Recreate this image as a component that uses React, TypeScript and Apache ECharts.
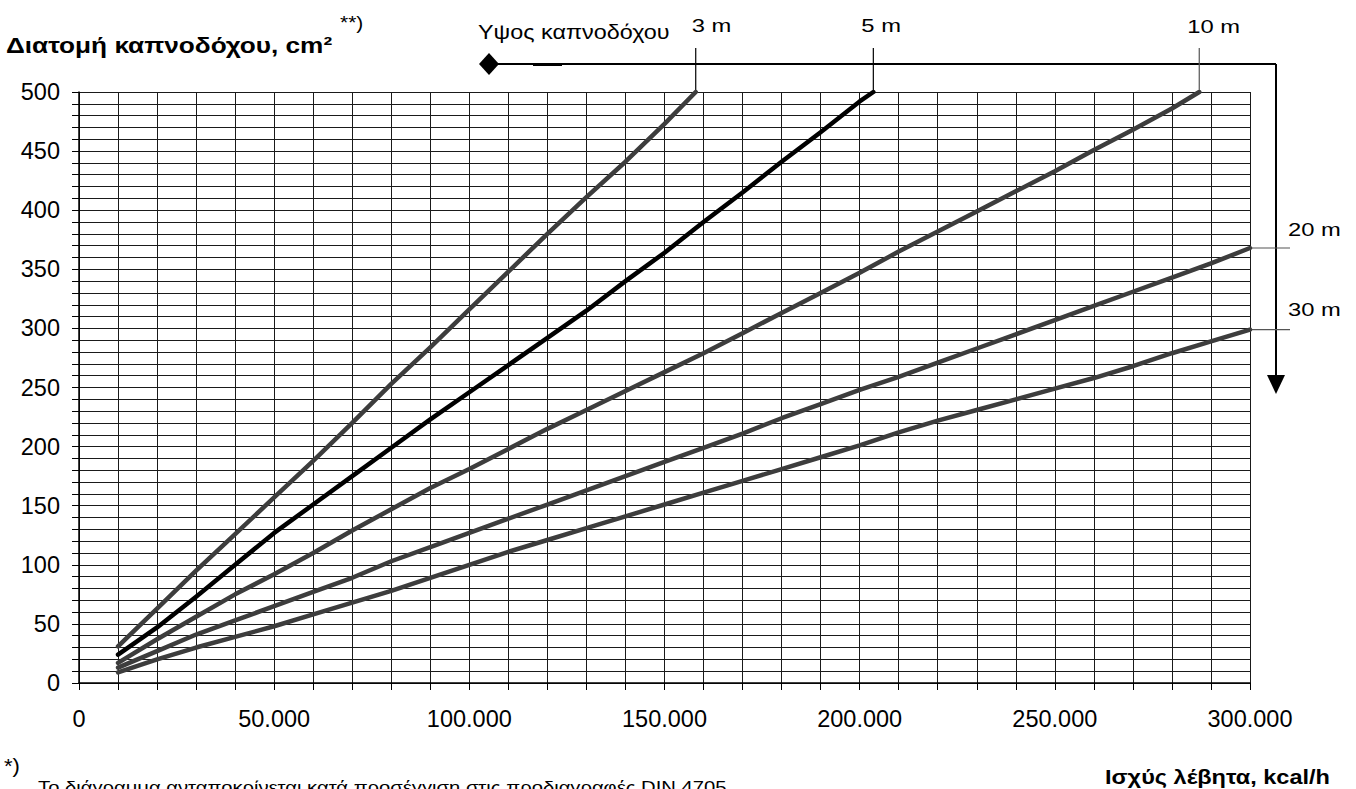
import React, { useEffect, useRef } from "react";
import * as echarts from "echarts";

// x-axis tick labels (kcal/h)
const xTickValues = [0, 50000, 100000, 150000, 200000, 250000, 300000];
// y-axis tick labels (cm²)
const yTickValues = [0, 50, 100, 150, 200, 250, 300, 350, 400, 450, 500];

// Chimney height 3 m
const load3m = [10000, 20000, 30000, 40000, 50000, 60000, 70000, 80000, 90000, 100000, 110000, 120000, 130000, 140000, 150000, 158000];
const area3m = [31, 63, 95, 126, 157, 188, 220, 253, 284, 316, 348, 380, 411, 441, 473, 500];

// Chimney height 5 m
const load5m = [10000, 20000, 30000, 40000, 50000, 60000, 70000, 80000, 90000, 100000, 110000, 120000, 130000, 140000, 150000, 160000, 170000, 180000, 190000, 200000, 203500];
const area5m = [24, 47, 73, 100, 127, 151, 175, 199, 223, 246, 269, 292, 315, 340, 364, 390, 415, 441, 466, 492, 500];

// Chimney height 10 m
const load10m = [10000, 20000, 30000, 40000, 50000, 60000, 70000, 80000, 90000, 100000, 110000, 120000, 130000, 140000, 150000, 160000, 170000, 180000, 190000, 200000, 210000, 220000, 230000, 240000, 250000, 260000, 270000, 280000, 287000];
const area10m = [17, 37, 56, 75, 92, 110, 129, 147, 165, 181, 198, 215, 231, 247, 263, 279, 296, 313, 330, 347, 365, 382, 399, 416, 433, 451, 468, 486, 500];

// Chimney height 20 m
const load20m = [10000, 20000, 30000, 40000, 50000, 60000, 70000, 80000, 90000, 100000, 110000, 120000, 130000, 140000, 150000, 160000, 170000, 180000, 190000, 200000, 210000, 220000, 230000, 240000, 250000, 260000, 270000, 280000, 290000, 300000];
const area20m = [13, 27, 41, 53, 65, 77, 89, 103, 115, 127, 139, 151, 163, 175, 187, 199, 211, 224, 236, 248, 259, 271, 283, 295, 307, 319, 331, 343, 355, 368];

// Chimney height 30 m
const load30m = [10000, 20000, 30000, 40000, 50000, 60000, 70000, 80000, 90000, 100000, 110000, 120000, 130000, 140000, 150000, 160000, 170000, 180000, 190000, 200000, 210000, 220000, 230000, 240000, 250000, 260000, 270000, 280000, 290000, 300000];
const area30m = [9, 20, 30, 39, 48, 58, 68, 78, 89, 100, 111, 121, 131, 141, 151, 161, 171, 181, 191, 201, 212, 222, 231, 240, 249, 258, 268, 279, 289, 299];

const heightLabels = ["3 m", "5 m", "10 m", "20 m", "30 m"];

const FONT = "'Liberation Sans', Arial, Helvetica, sans-serif";

function fmtThousands(v: number): string {
  return String(v).replace(/\B(?=(\d{3})+(?!\d))/g, ".");
}

export default function App() {
  const ref = useRef<HTMLDivElement>(null);

  useEffect(() => {
    if (!ref.current) return;
    const chart = echarts.init(ref.current, null, { renderer: "svg" });

    const curves = [
      { name: heightLabels[0], xs: load3m, ys: area3m, color: "#3d3d3d" },
      { name: heightLabels[1], xs: load5m, ys: area5m, color: "#000000" },
      { name: heightLabels[2], xs: load10m, ys: area10m, color: "#3d3d3d" },
      { name: heightLabels[3], xs: load20m, ys: area20m, color: "#3d3d3d" },
      { name: heightLabels[4], xs: load30m, ys: area30m, color: "#3d3d3d" },
    ];

    const gridLine = { color: "#1a1a1a", width: 1 };

    chart.setOption({
      animation: false,
      backgroundColor: "#ffffff",
      grid: { left: 79, top: 92, width: 1171, height: 591, containLabel: false },
      xAxis: {
        type: "value",
        min: xTickValues[0],
        max: xTickValues[xTickValues.length - 1],
        interval: 50000,
        axisLine: { show: true, lineStyle: { color: "#000", width: 1.5 } },
        axisTick: { show: true, length: 7, lineStyle: { color: "#000", width: 1 } },
        minorTick: { show: true, splitNumber: 5, length: 7, lineStyle: { color: "#000", width: 1 } },
        splitLine: { show: true, lineStyle: gridLine },
        minorSplitLine: { show: true, lineStyle: gridLine },
        axisLabel: {
          formatter: (v: number) => fmtThousands(v),
          fontSize: 23.5,
          color: "#000",
          fontFamily: FONT,
          margin: 24,
        },
      },
      yAxis: {
        type: "value",
        min: yTickValues[0],
        max: yTickValues[yTickValues.length - 1],
        interval: 50,
        axisLine: { show: true, lineStyle: { color: "#000", width: 1.5 } },
        axisTick: { show: true, length: 7, lineStyle: { color: "#000", width: 1 } },
        minorTick: { show: true, splitNumber: 5, length: 7, lineStyle: { color: "#000", width: 1 } },
        splitLine: { show: true, lineStyle: gridLine },
        minorSplitLine: { show: true, lineStyle: gridLine },
        axisLabel: { fontSize: 23.5, color: "#000", fontFamily: FONT, margin: 19 },
      },
      series: curves.map((c) => ({
        type: "line",
        name: c.name,
        data: c.xs.map((x, i) => [x, c.ys[i]]),
        symbol: "none",
        silent: true,
        lineStyle: { color: c.color, width: 4.5, cap: "round", join: "round" },
      })),
    });

    const px = (x: number, y: number) => chart.convertToPixel({ gridIndex: 0 }, [x, y]) as number[];
    const end3 = px(load3m[load3m.length - 1], area3m[area3m.length - 1]);
    const end5 = px(load5m[load5m.length - 1], area5m[area5m.length - 1]);
    const end10 = px(load10m[load10m.length - 1], area10m[area10m.length - 1]);
    const end20 = px(load20m[load20m.length - 1], area20m[area20m.length - 1]);
    const end30 = px(load30m[load30m.length - 1], area30m[area30m.length - 1]);

    const lineY = 64;
    const arrowX = 1276;
    const tickTop = 48;
    const black = { stroke: "#000", lineWidth: 1.2 };
    const txt = (x: number, y: number, text: string, size: number, sx: number, bold = false) => ({
      type: "text",
      x,
      y,
      scaleX: sx,
      silent: true,
      style: {
        text,
        fontSize: size,
        fontWeight: bold ? "bold" : "normal",
        fontFamily: FONT,
        fill: "#000",
        align: "left",
        verticalAlign: "middle",
      },
    });

    chart.setOption({
      graphic: [
        txt(6, 45, "Διατομή καπνοδόχου, cm²", 22, 1.19, true),
        txt(340, 22, "**)", 19, 1.1),
        txt(478, 32, "Υψος καπνοδόχου", 20, 1.17),
        txt(end3[0] - 4, 26, heightLabels[0], 19, 1.25),
        txt(end5[0] - 12, 26, heightLabels[1], 19, 1.25),
        txt(end10[0] - 12, 27, heightLabels[2], 19, 1.25),
        txt(1288, 230, heightLabels[3], 19, 1.25),
        txt(1288, 310, heightLabels[4], 19, 1.25),
        // top leader line with diamond and arrow
        {
          type: "polygon",
          silent: true,
          shape: { points: [[479, lineY], [489, lineY - 11], [499, lineY], [489, lineY + 11]] },
          style: { fill: "#000" },
        },
        { type: "line", silent: true, shape: { x1: 489, y1: lineY, x2: arrowX, y2: lineY }, style: { stroke: "#000", lineWidth: 2 } },
        { type: "line", silent: true, shape: { x1: 533, y1: lineY + 0.5, x2: 562, y2: lineY + 0.5 }, style: { stroke: "#000", lineWidth: 3 } },
        { type: "line", silent: true, shape: { x1: arrowX, y1: lineY, x2: arrowX, y2: 378 }, style: { stroke: "#000", lineWidth: 2 } },
        {
          type: "polygon",
          silent: true,
          shape: { points: [[arrowX - 9, 375], [arrowX + 9, 375], [arrowX, 394]] },
          style: { fill: "#000" },
        },
        // height markers
        { type: "line", silent: true, shape: { x1: end3[0], y1: tickTop, x2: end3[0], y2: end3[1] }, style: black },
        { type: "line", silent: true, shape: { x1: end5[0], y1: tickTop, x2: end5[0], y2: end5[1] }, style: black },
        { type: "line", silent: true, shape: { x1: end10[0], y1: tickTop, x2: end10[0], y2: end10[1] }, style: { stroke: "#555", lineWidth: 1.2 } },
        { type: "line", silent: true, shape: { x1: end20[0], y1: end20[1], x2: 1290, y2: end20[1] }, style: { stroke: "#555", lineWidth: 1.2 } },
        { type: "line", silent: true, shape: { x1: end30[0], y1: end30[1], x2: 1290, y2: end30[1] }, style: { stroke: "#555", lineWidth: 1.2 } },
        // footnotes
        txt(4, 766, "*)", 20, 1.1),
        txt(38, 787, "Το διάγραμμα ανταποκρίνεται κατά προσέγγιση στις προδιαγραφές DIN 4705", 17, 1.19),
        txt(1105, 777, "Ισχύς λέβητα, kcal/h", 21, 1.12, true),
      ],
    });

    return () => chart.dispose();
  }, []);

  return (
    <div
      ref={ref}
      style={{ position: "fixed", left: 0, top: 0, width: 1356, height: 789, background: "#fff" }}
    />
  );
}
